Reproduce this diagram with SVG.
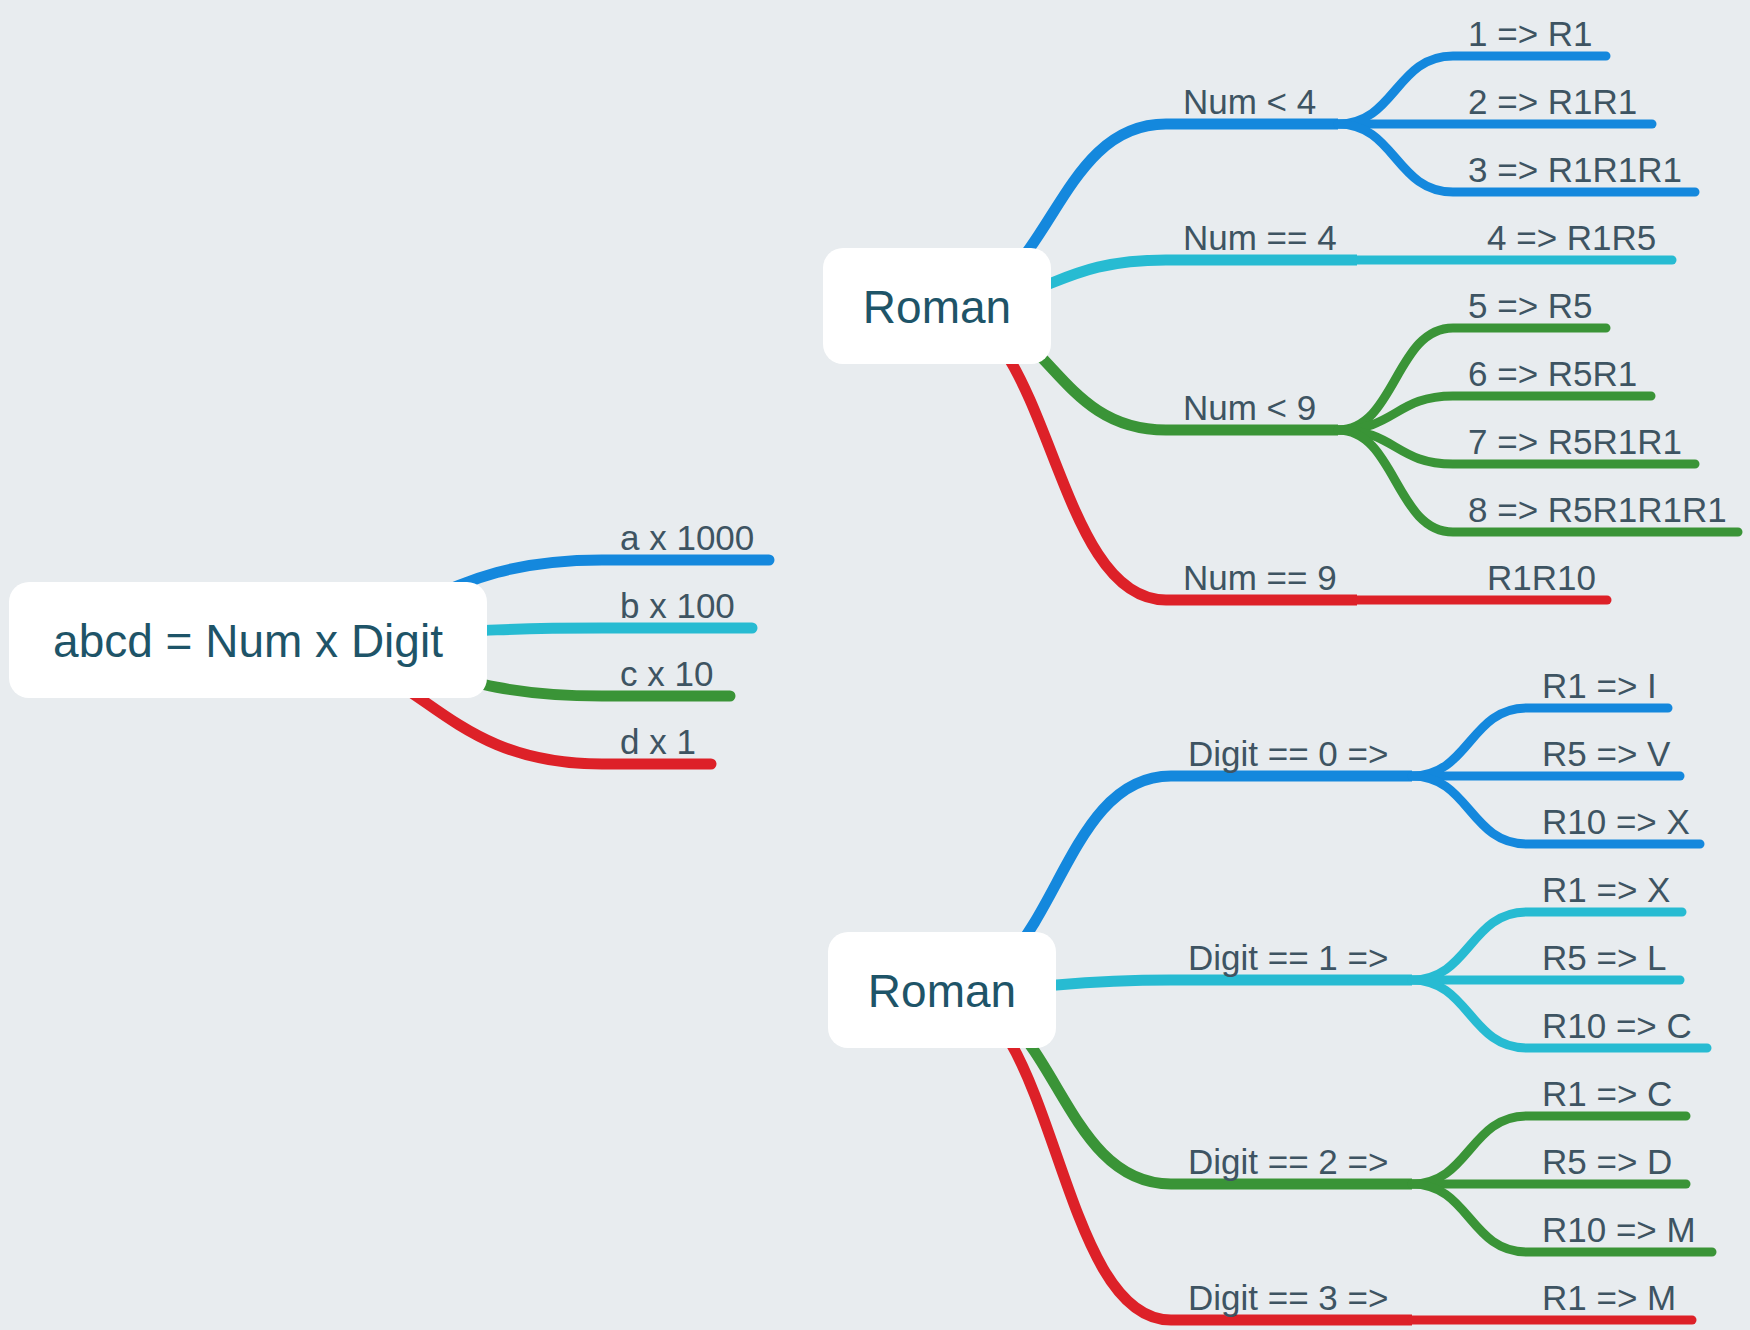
<svg xmlns="http://www.w3.org/2000/svg" width="1750" height="1330" viewBox="0 0 1750 1330">
  <style>
    .bg { fill: #e8ecef; }
    .link { fill: none; stroke-linejoin: round; }
    .l1 { stroke-width: 11; stroke-linecap: butt; }
    .l1r { stroke-width: 11; stroke-linecap: round; }
    .l2 { stroke-width: 9; stroke-linecap: round; }
    .blue { stroke: #1488dd; }
    .cyan { stroke: #27bbd2; }
    .green { stroke: #3a9437; }
    .red { stroke: #dd2128; }
    .box { fill: #ffffff; }
    .ntext { font-family: "Liberation Sans", Arial, sans-serif; font-size: 46px; fill: #1e5468; text-anchor: middle; }
    .label { font-family: "Liberation Sans", Arial, sans-serif; font-size: 35px; fill: #3e5462; }
  </style>
  <rect class="bg" x="0" y="0" width="1750" height="1330"/>

  <g id="connectors">
    <!-- abcd root -->
    <path class="link l1r blue" d="M248,640 C425,640 425,560 602,560 H769"/>
    <path class="link l1r cyan" d="M248,640 C425,640 425,628 602,628 H752"/>
    <path class="link l1r green" d="M248,640 C425,640 425,696 602,696 H730"/>
    <path class="link l1r red" d="M248,640 C425,640 425,764 602,764 H711"/>

    <!-- Roman 1 -->
    <path class="link l1 blue" d="M937,306 C1051.5,306 1051.5,124 1166,124 H1338"/>
    <path class="link l1 cyan" d="M937,306 C1051.5,306 1051.5,260 1166,260 H1357"/>
    <path class="link l1 green" d="M937,306 C1051.5,306 1051.5,430 1166,430 H1338"/>
    <path class="link l1 red" d="M937,306 C1051.5,306 1051.5,600 1166,600 H1357"/>

    <path class="link l2 blue" d="M1338,124 C1395.5,124 1395.5,56 1453,56 H1606"/>
    <path class="link l2 blue" d="M1338,124 H1652"/>
    <path class="link l2 blue" d="M1338,124 C1395.5,124 1395.5,192 1453,192 H1695"/>
    <path class="link l2 cyan" d="M1357,260 H1672"/>
    <path class="link l2 green" d="M1338,430 C1395.5,430 1395.5,328 1453,328 H1606"/>
    <path class="link l2 green" d="M1338,430 C1395.5,430 1395.5,396 1453,396 H1651"/>
    <path class="link l2 green" d="M1338,430 C1395.5,430 1395.5,464 1453,464 H1695"/>
    <path class="link l2 green" d="M1338,430 C1395.5,430 1395.5,532 1453,532 H1738"/>
    <path class="link l2 red" d="M1357,600 H1607"/>

    <!-- Roman 2 -->
    <path class="link l1 blue" d="M942,990 C1056.5,990 1056.5,776 1171,776 H1412"/>
    <path class="link l1 cyan" d="M942,990 C1056.5,990 1056.5,980 1171,980 H1412"/>
    <path class="link l1 green" d="M942,990 C1056.5,990 1056.5,1184 1171,1184 H1412"/>
    <path class="link l1 red" d="M942,990 C1056.5,990 1056.5,1320 1171,1320 H1412"/>

    <path class="link l2 blue" d="M1412,776 C1469.5,776 1469.5,708 1527,708 H1668"/>
    <path class="link l2 blue" d="M1412,776 H1680"/>
    <path class="link l2 blue" d="M1412,776 C1469.5,776 1469.5,844 1527,844 H1700"/>
    <path class="link l2 cyan" d="M1412,980 C1469.5,980 1469.5,912 1527,912 H1682"/>
    <path class="link l2 cyan" d="M1412,980 H1680"/>
    <path class="link l2 cyan" d="M1412,980 C1469.5,980 1469.5,1048 1527,1048 H1707"/>
    <path class="link l2 green" d="M1412,1184 C1469.5,1184 1469.5,1116 1527,1116 H1686"/>
    <path class="link l2 green" d="M1412,1184 H1686"/>
    <path class="link l2 green" d="M1412,1184 C1469.5,1184 1469.5,1252 1527,1252 H1712"/>
    <path class="link l2 red" d="M1412,1320 H1692"/>
  </g>

  <!-- root nodes -->
  <g id="node-abcd">
    <rect class="box" x="9" y="582" width="478" height="116" rx="20"/>
    <text class="ntext" x="248" y="657">abcd = Num x Digit</text>
  </g>
  <g id="node-roman-1">
    <rect class="box" x="823" y="248" width="228" height="116" rx="20"/>
    <text class="ntext" x="937" y="323">Roman</text>
  </g>
  <g id="node-roman-2">
    <rect class="box" x="828" y="932" width="228" height="116" rx="20"/>
    <text class="ntext" x="942" y="1007">Roman</text>
  </g>

  <!-- abcd children -->
  <g id="node-a"><text class="label" x="620" y="550">a x 1000</text></g>
  <g id="node-b"><text class="label" x="620" y="618">b x 100</text></g>
  <g id="node-c"><text class="label" x="620" y="686">c x 10</text></g>
  <g id="node-d"><text class="label" x="620" y="754">d x 1</text></g>

  <!-- Roman 1 children -->
  <g id="node-num-lt4"><text class="label" x="1183" y="114">Num &lt; 4</text></g>
  <g id="node-num-eq4"><text class="label" x="1183" y="250">Num == 4</text></g>
  <g id="node-num-lt9"><text class="label" x="1183" y="420">Num &lt; 9</text></g>
  <g id="node-num-eq9"><text class="label" x="1183" y="590">Num == 9</text></g>

  <g id="node-1"><text class="label" x="1468" y="46">1 =&gt; R1</text></g>
  <g id="node-2"><text class="label" x="1468" y="114">2 =&gt; R1R1</text></g>
  <g id="node-3"><text class="label" x="1468" y="182">3 =&gt; R1R1R1</text></g>
  <g id="node-4"><text class="label" x="1487" y="250">4 =&gt; R1R5</text></g>
  <g id="node-5"><text class="label" x="1468" y="318">5 =&gt; R5</text></g>
  <g id="node-6"><text class="label" x="1468" y="386">6 =&gt; R5R1</text></g>
  <g id="node-7"><text class="label" x="1468" y="454">7 =&gt; R5R1R1</text></g>
  <g id="node-8"><text class="label" x="1468" y="522">8 =&gt; R5R1R1R1</text></g>
  <g id="node-9"><text class="label" x="1487" y="590">R1R10</text></g>

  <!-- Roman 2 children -->
  <g id="node-digit0"><text class="label" x="1188" y="766">Digit == 0 =&gt;</text></g>
  <g id="node-digit1"><text class="label" x="1188" y="970">Digit == 1 =&gt;</text></g>
  <g id="node-digit2"><text class="label" x="1188" y="1174">Digit == 2 =&gt;</text></g>
  <g id="node-digit3"><text class="label" x="1188" y="1310">Digit == 3 =&gt;</text></g>

  <g id="node-d0-r1"><text class="label" x="1542" y="698">R1 =&gt; I</text></g>
  <g id="node-d0-r5"><text class="label" x="1542" y="766">R5 =&gt; V</text></g>
  <g id="node-d0-r10"><text class="label" x="1542" y="834">R10 =&gt; X</text></g>
  <g id="node-d1-r1"><text class="label" x="1542" y="902">R1 =&gt; X</text></g>
  <g id="node-d1-r5"><text class="label" x="1542" y="970">R5 =&gt; L</text></g>
  <g id="node-d1-r10"><text class="label" x="1542" y="1038">R10 =&gt; C</text></g>
  <g id="node-d2-r1"><text class="label" x="1542" y="1106">R1 =&gt; C</text></g>
  <g id="node-d2-r5"><text class="label" x="1542" y="1174">R5 =&gt; D</text></g>
  <g id="node-d2-r10"><text class="label" x="1542" y="1242">R10 =&gt; M</text></g>
  <g id="node-d3-r1"><text class="label" x="1542" y="1310">R1 =&gt; M</text></g>
</svg>
